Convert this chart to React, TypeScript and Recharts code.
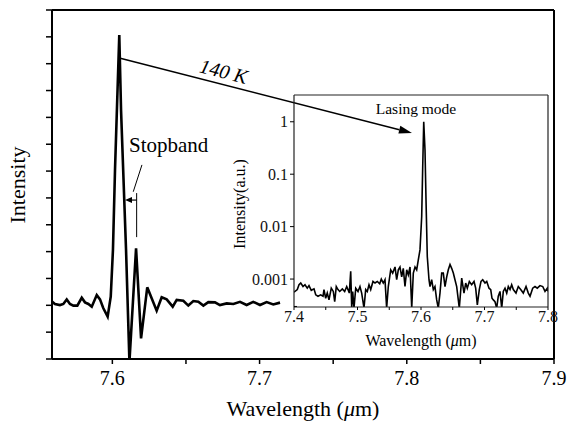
import { LineChart, Line, XAxis, YAxis, ReferenceLine } from 'recharts'

const FONT = '"Liberation Serif", "Times New Roman", serif'

// main spectrum (140 K)
const MAIN_WL = [
  7.5592, 7.561, 7.5644, 7.5667, 7.569, 7.5712, 7.5735, 7.5762, 7.5792, 7.5814,
  7.5837, 7.586, 7.5894, 7.5916, 7.5938, 7.5968, 7.5989, 7.6004, 7.6018, 7.6047,
  7.6059, 7.6093, 7.6116, 7.6161, 7.6195, 7.6237, 7.6267, 7.6301, 7.6335, 7.6369,
  7.641, 7.6437, 7.6482, 7.6516, 7.655, 7.6584, 7.6618, 7.6652, 7.6697, 7.6731,
  7.6777, 7.6822, 7.6867, 7.6912, 7.6957, 7.7003, 7.7048, 7.7093, 7.7139,
]
const MAIN_I = [
  2.13, 2.05, 2.01, 2.05, 2.22, 2.05, 1.99, 1.99, 2.28, 2.11,
  2.05, 1.95, 2.38, 2.22, 1.9, 1.58, 2.32, 4.06, 7.04, 12.07,
  9.27, 4.06, -0.1, 4.12, 0.77, 2.67, 2.26, 1.8, 2.3, 2.22,
  1.95, 2.2, 2.17, 1.99, 2.16, 2.13, 1.99, 2.12, 2.11, 2.01,
  2.07, 2.05, 2.13, 2.01, 2.13, 2.01, 2.12, 2.03, 2.1,
]
const MAIN_X_TICKS = [7.6, 7.65, 7.7, 7.75, 7.8, 7.85, 7.9]
const MAIN_X_LABELED = [7.6, 7.7, 7.8, 7.9]
const MAIN_Y_TICKS = [0, 1, 2, 3, 4, 5, 6, 7, 8, 9, 10, 11, 12, 13]

// inset, log scale
const INSET_WL = [
  7.4, 7.4052, 7.4079, 7.4106, 7.4142, 7.4173, 7.4209, 7.4236, 7.4272, 7.4315,
  7.4342, 7.4378, 7.442, 7.4457, 7.4472, 7.4499, 7.4524, 7.4551, 7.4587, 7.4619,
  7.4641, 7.4666, 7.4693, 7.472, 7.4761, 7.4798, 7.483, 7.485, 7.4871, 7.4893,
  7.4909, 7.4924, 7.4945, 7.4972, 7.5008, 7.5039, 7.5066, 7.5102, 7.5129, 7.5154,
  7.5181, 7.5208, 7.5244, 7.5276, 7.5312, 7.535, 7.5375, 7.5406, 7.5433, 7.5459,
  7.5485, 7.5523, 7.5554, 7.5591, 7.5617, 7.5643, 7.5669, 7.5696, 7.5721, 7.5748,
  7.5775, 7.58, 7.5827, 7.5854, 7.5879, 7.5906, 7.5932, 7.5957, 7.5984, 7.6011,
  7.6027, 7.6043, 7.6063, 7.6079, 7.6099, 7.6126, 7.6142, 7.6168, 7.6194, 7.622,
  7.6247, 7.6272, 7.6299, 7.6326, 7.6351, 7.6378, 7.6405, 7.643, 7.6457, 7.6483,
  7.6509, 7.6535, 7.6562, 7.6603, 7.6641, 7.6677, 7.6704, 7.6729, 7.6761, 7.6798,
  7.6835, 7.6861, 7.6887, 7.6918, 7.6945, 7.6972, 7.7008, 7.7035, 7.7071, 7.7098,
  7.7118, 7.7139, 7.7165, 7.7192, 7.7217, 7.7244, 7.7271, 7.7296, 7.7323, 7.735,
  7.7375, 7.7402, 7.7428, 7.7454, 7.7496, 7.7532, 7.757, 7.7611, 7.7654, 7.769,
  7.7717, 7.7759, 7.7795, 7.7831, 7.7874, 7.7917, 7.7953, 7.7989, 7.8,
]
const INSET_I = [
  0.00056, 0.00063, 0.00078, 0.00084, 0.00072, 0.00078, 0.00067, 0.00075, 0.00061, 0.00065,
  0.0005, 0.00047, 0.0005, 0.00047, 0.00063, 0.00043, 0.00054, 0.0004, 0.00067, 0.00058,
  0.00037, 0.00072, 0.00063, 0.00058, 0.00065, 0.00058, 0.00072, 0.00063, 0.00054, 0.0014,
  0.00028, 0.00058, 0.00028, 0.00067, 0.00058, 0.00072, 0.00054, 0.00028, 0.00063, 0.00058,
  0.00078, 0.00063, 0.0009, 0.00084, 0.0009, 0.00081, 0.001, 0.00084, 0.00097, 0.00028,
  0.00072, 0.0015, 0.0013, 0.0017, 0.00097, 0.0015, 0.0017, 0.0011, 0.0016, 0.00072,
  0.0015, 0.0012, 0.0017, 0.00028, 0.0013, 0.0017, 0.0015, 0.0023, 0.0036, 0.0156,
  0.14, 1.0, 0.29, 0.032, 0.0027, 0.00097, 0.00072, 0.00097, 0.00063, 0.00072,
  0.0004, 0.00028, 0.00054, 0.0013, 0.0013, 0.00072, 0.0011, 0.0015, 0.0019, 0.0016,
  0.0013, 0.00097, 0.00072, 0.00028, 0.00104, 0.00054, 0.00084, 0.00067, 0.0009, 0.00078,
  0.0009, 0.00067, 0.00032, 0.00063, 0.0009, 0.00097, 0.00084, 0.0009, 0.00067, 0.00063,
  0.00043, 0.0004, 0.00037, 0.00028, 0.00047, 0.00058, 0.00028, 0.00058, 0.00067, 0.00054,
  0.00072, 0.00063, 0.00078, 0.00063, 0.00054, 0.00072, 0.00063, 0.00054, 0.00072, 0.00054,
  0.00047, 0.00067, 0.00072, 0.00067, 0.00075, 0.00072, 0.00058, 0.00067, 0.00058,
]
const INSET_X_TICKS = [7.4, 7.45, 7.5, 7.55, 7.6, 7.65, 7.7, 7.75, 7.8]
const INSET_X_LABELED = [7.4, 7.5, 7.6, 7.7, 7.8]
const INSET_Y_MAJOR = [0.001, 0.01, 0.1, 1]
const INSET_Y_MINOR = [
  0.0003, 0.0004, 0.0005, 0.0006, 0.0007, 0.0008, 0.0009,
  0.002, 0.003, 0.004, 0.005, 0.006, 0.007, 0.008, 0.009,
  0.02, 0.03, 0.04, 0.05, 0.06, 0.07, 0.08, 0.09,
  0.2, 0.3, 0.4, 0.5, 0.6, 0.7, 0.8, 0.9, 2, 3,
]

const mainData = MAIN_WL.map((wl, i) => ({ wl, intensity: MAIN_I[i] }))
const insetData = INSET_WL.map((wl, i) => ({ wl, intensity: INSET_I[i] }))

// line with a filled head at its second point
function arrow(head: number, half: number, width: number) {
  // eslint-disable-next-line @typescript-eslint/no-explicit-any
  return (p: any) => {
    const { x1, y1, x2, y2 } = p
    const a = Math.atan2(y2 - y1, x2 - x1)
    const bx = x2 - head * Math.cos(a)
    const by = y2 - head * Math.sin(a)
    const nx = -Math.sin(a) * half
    const ny = Math.cos(a) * half
    return (
      <g>
        <line x1={x1} y1={y1} x2={bx} y2={by} stroke="#000" strokeWidth={width} />
        <polygon points={`${x2},${y2} ${bx + nx},${by + ny} ${bx - nx},${by - ny}`} fill="#000" />
      </g>
    )
  }
}

// eslint-disable-next-line @typescript-eslint/no-explicit-any
function InsetYTick(props: any) {
  const { x, y, payload } = props
  const major = INSET_Y_MAJOR.includes(payload.value)
  return (
    <g>
      <line x1={x} x2={major ? x - 4 : x + 3} y1={y} y2={y} stroke="#000" strokeWidth={1} />
      {major && (
        <text x={x - 6} y={y} dy="0.35em" textAnchor="end" fontSize={16} fontFamily={FONT} fill="#111">
          {String(payload.value)}
        </text>
      )}
    </g>
  )
}

const axisMain = { stroke: '#000', strokeWidth: 2 }
const axisInset = { stroke: '#222', strokeWidth: 1.2 }

export default function App() {
  return (
    <div style={{ position: 'fixed', left: 0, top: 0, width: 569, height: 426, background: '#fff' }}>
      <div style={{ position: 'absolute', left: 0, top: 0 }}>
        <LineChart width={569} height={426} data={mainData} margin={{ top: 9, right: 14, left: 42, bottom: 37 }}>
          <XAxis
            dataKey="wl" type="number" domain={[7.559, 7.9]} allowDataOverflow
            ticks={MAIN_X_TICKS} tickFormatter={(v: number) => (MAIN_X_LABELED.includes(v) ? v.toFixed(1) : '')}
            height={30} tickSize={5} tickMargin={7} axisLine={axisMain} tickLine={{ stroke: '#000', strokeWidth: 1.5 }}
            tick={{ fill: '#000', fontSize: 20, fontFamily: FONT }}
          />
          <XAxis xAxisId="top" orientation="top" dataKey="wl" type="number" domain={[7.559, 7.9]} allowDataOverflow
            height={1} tick={false} tickLine={false} axisLine={axisMain} />
          <YAxis
            type="number" domain={[0, 13]} allowDataOverflow ticks={MAIN_Y_TICKS} tickFormatter={() => ''}
            width={10} tickSize={6} axisLine={axisMain} tickLine={{ stroke: '#000', strokeWidth: 1.5 }}
          />
          <YAxis yAxisId="right" orientation="right" type="number" domain={[0, 13]} width={1}
            tick={false} tickLine={false} axisLine={axisMain} />
          <Line type="linear" dataKey="intensity" stroke="#000" strokeWidth={2.6} dot={false} isAnimationActive={false} />
          <ReferenceLine segment={[{ x: 7.6047, y: 11.21 }, { x: 7.8035, y: 8.42 }]} shape={arrow(13, 4, 1.5)} />
          <ReferenceLine segment={[{ x: 7.6201, y: 7.23 }, { x: 7.6142, y: 6.23 }]} stroke="#000" strokeWidth={1} />
          <ReferenceLine segment={[{ x: 7.6165, y: 6.18 }, { x: 7.6165, y: 4.54 }]} stroke="#000" strokeWidth={1} />
          <ReferenceLine segment={[{ x: 7.6165, y: 5.92 }, { x: 7.6086, y: 5.92 }]} shape={arrow(7, 3, 1.2)} />
        </LineChart>
      </div>
      <div style={{ position: 'absolute', left: 240, top: 85 }}>
        <LineChart width={320} height={280} data={insetData} margin={{ top: 9, right: 11, left: 44, bottom: 28 }}>
          <XAxis
            dataKey="wl" type="number" domain={[7.4, 7.8]} allowDataOverflow
            ticks={INSET_X_TICKS} tickFormatter={(v: number) => (INSET_X_LABELED.includes(v) ? v.toFixed(1) : '')}
            height={30} tickSize={3} tickMargin={1} axisLine={axisInset} tickLine={{ stroke: '#000', strokeWidth: 1 }}
            tick={{ fill: '#111', fontSize: 16, fontFamily: FONT }}
          />
          <XAxis xAxisId="top" orientation="top" dataKey="wl" type="number" domain={[7.4, 7.8]}
            height={1} tick={false} tickLine={false} axisLine={axisInset} />
          <YAxis
            type="number" scale="log" domain={[0.000293, 3.24]} allowDataOverflow
            ticks={[...INSET_Y_MINOR, ...INSET_Y_MAJOR]} tick={InsetYTick}
            width={10} tickSize={0} tickMargin={0} tickLine={false} axisLine={axisInset}
          />
          <YAxis yAxisId="right" orientation="right" type="number" domain={[0, 1]} width={1}
            tick={false} tickLine={false} axisLine={axisInset} />
          <Line type="linear" dataKey="intensity" stroke="#000" strokeWidth={1.6} dot={false} isAnimationActive={false} />
        </LineChart>
      </div>
      <svg width={569} height={426} style={{ position: 'absolute', left: 0, top: 0, pointerEvents: 'none' }}
        fontFamily={FONT} fill="#000">
        <text x={25} y={185} fontSize={22} textAnchor="middle" transform="rotate(-90 25 185)">Intensity</text>
        <text x={303} y={416} fontSize={22} textAnchor="middle">
          Wavelength (<tspan fontStyle="italic">μ</tspan>m)
        </text>
        <text x={222} y={78} fontSize={20} fontStyle="italic" textAnchor="middle" transform="rotate(14.3 222 78)">140 K</text>
        <text x={129} y={152} fontSize={21}>Stopband</text>
        <text x={416} y={114} fontSize={15.5} textAnchor="middle">Lasing mode</text>
        <text x={245} y={204} fontSize={16} textAnchor="middle" transform="rotate(-90 245 204)">Intensity(a.u.)</text>
        <text x={421} y={346} fontSize={16} textAnchor="middle">
          Wavelength (<tspan fontStyle="italic">μ</tspan>m)
        </text>
      </svg>
    </div>
  )
}
